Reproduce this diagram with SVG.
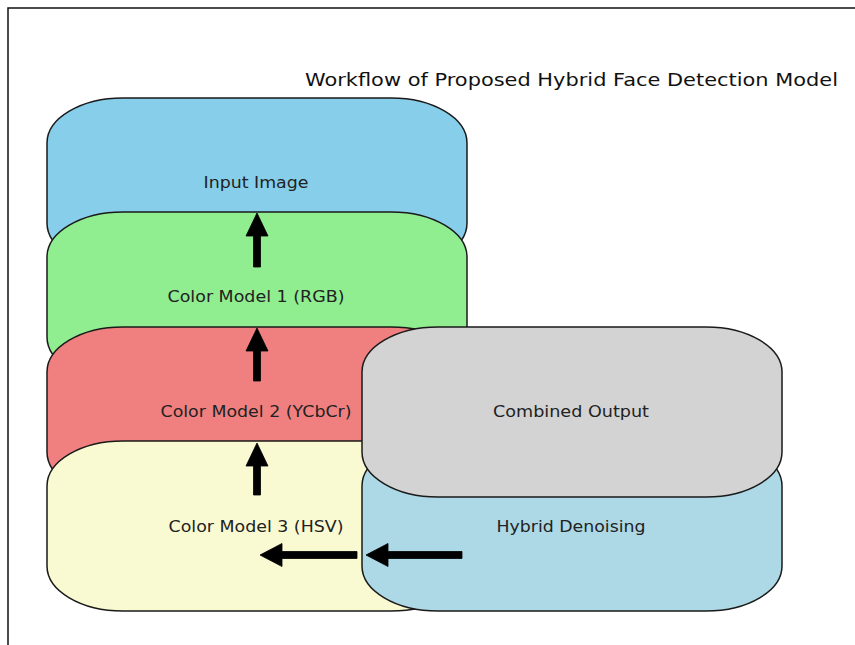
<svg xmlns="http://www.w3.org/2000/svg" width="855" height="645" viewBox="0 0 855 645">
<style>
.box{stroke:#1a1a1a;stroke-width:1.5}
.lbl{font-family:"DejaVu Sans",sans-serif;font-size:15px;fill:#222;text-anchor:middle}
.title{font-family:"DejaVu Sans",sans-serif;font-size:18px;fill:#111;text-anchor:middle}
.arr{fill:#000;stroke:#000;stroke-width:0.8;stroke-linejoin:miter}
</style>
<rect width="855" height="645" fill="#fff"/>
<path d="M8,645 V8 H855" fill="none" stroke="#111" stroke-width="1.5"/>
<text class="title" x="571.5" y="86" textLength="533" lengthAdjust="spacingAndGlyphs">Workflow of Proposed Hybrid Face Detection Model</text>
<g id="input"><rect class="box" x="47" y="98" width="420" height="170" rx="76" ry="45" fill="#87CEEB"/><text class="lbl" x="256" y="188" textLength="105" lengthAdjust="spacingAndGlyphs">Input Image</text></g>
<g id="rgb"><rect class="box" x="47" y="212" width="420" height="170" rx="76" ry="45" fill="#90EE90"/><text class="lbl" x="256" y="302" textLength="177" lengthAdjust="spacingAndGlyphs">Color Model 1 (RGB)</text></g>
<g id="ycbcr"><rect class="box" x="47" y="327" width="420" height="170" rx="76" ry="45" fill="#F08080"/><text class="lbl" x="256" y="417" textLength="191" lengthAdjust="spacingAndGlyphs">Color Model 2 (YCbCr)</text></g>
<g id="hsv"><rect class="box" x="47" y="441" width="420" height="170" rx="76" ry="45" fill="#FAFAD2"/><text class="lbl" x="256" y="532" textLength="175" lengthAdjust="spacingAndGlyphs">Color Model 3 (HSV)</text></g>
<g id="denoise"><rect class="box" x="362" y="441" width="420" height="170" rx="76" ry="45" fill="#ADD8E6"/><text class="lbl" x="571" y="532" textLength="149" lengthAdjust="spacingAndGlyphs">Hybrid Denoising</text></g>
<g id="combined"><rect class="box" x="362" y="327" width="420" height="170" rx="76" ry="45" fill="#D3D3D3"/><text class="lbl" x="571" y="417" textLength="156" lengthAdjust="spacingAndGlyphs">Combined Output</text></g>
<g id="connectors">
<polygon class="arr" points="257,213 268,236 260.5,236 260.5,267 253.5,267 253.5,236 246,236"/>
<polygon class="arr" points="257,328 268,351 260.5,351 260.5,381 253.5,381 253.5,351 246,351"/>
<polygon class="arr" points="257,443 268,466 260.5,466 260.5,495 253.5,495 253.5,466 246,466"/>
<polygon class="arr" points="366,555 388,543.5 388,551.5 462,551.5 462,558.5 388,558.5 388,566.5"/>
<polygon class="arr" points="260,555 282,543.5 282,551.5 357,551.5 357,558.5 282,558.5 282,566.5"/>
</g>
</svg>
